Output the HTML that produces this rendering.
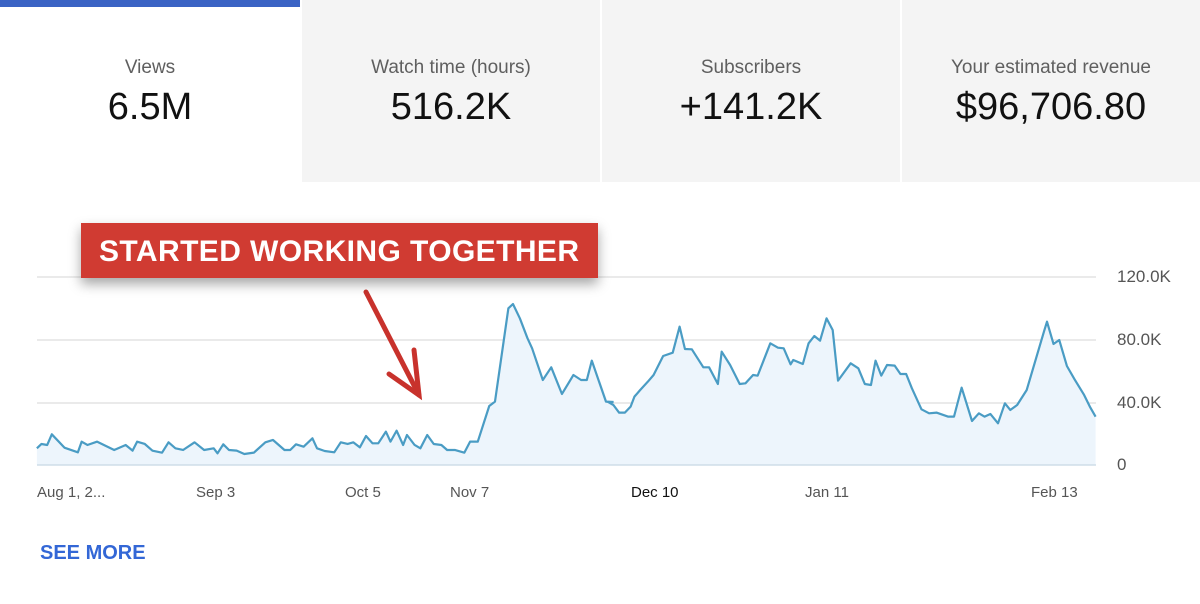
<!DOCTYPE html>
<html><head><style>
body{margin:0;width:1200px;height:604px;background:#fff;font-family:"Liberation Sans",sans-serif;position:relative;overflow:hidden}
.card{position:absolute;top:0;height:182px;width:298px;background:#f4f4f4;text-align:center}
.lab{position:absolute;top:57px;width:100%;font-size:19px;color:#5f5f5f}
.val{position:absolute;top:86px;width:100%;font-size:38px;color:#111}
.yl{position:absolute;left:1117px;font-size:17px;color:#555}
.xl{position:absolute;top:484px;font-size:15px;color:#555}
</style></head><body>
<div class="card" style="left:0;width:300px;background:#fff"><div style="position:absolute;left:0;top:0;width:300px;height:7px;background:#3a63c4"></div><div class="lab">Views</div><div class="val">6.5M</div></div>
<div class="card" style="left:302px"><div class="lab">Watch time (hours)</div><div class="val">516.2K</div></div>
<div class="card" style="left:602px"><div class="lab">Subscribers</div><div class="val">+141.2K</div></div>
<div class="card" style="left:902px"><div class="lab">Your estimated revenue</div><div class="val">$96,706.80</div></div>

<svg width="1200" height="604" style="position:absolute;left:0;top:0">
<g stroke="#e4e4e4" stroke-width="1.5"><line x1="37" y1="277" x2="1096" y2="277"/><line x1="37" y1="340" x2="1096" y2="340"/><line x1="37" y1="403" x2="1096" y2="403"/></g>
<g>
<polygon fill="#edf5fc" transform="translate(30,280) scale(0.3827,0.3333)" points="18,555 18,505 30,492 45,495 57,463 90,503 125,517 135,485 150,495 175,485 220,510 250,495 268,512 280,485 300,492 320,512 345,518 362,487 380,505 400,510 430,487 455,510 480,505 490,520 505,493 520,510 540,512 560,522 585,518 615,487 635,480 665,510 680,510 695,493 715,500 738,475 750,505 770,513 795,517 812,487 830,492 845,487 862,502 878,468 895,490 910,490 930,455 942,485 958,452 975,495 985,465 1005,495 1020,505 1038,465 1055,492 1075,495 1090,510 1110,510 1135,518 1150,485 1170,485 1200,378 1215,365 1250,85 1262,72 1280,115 1300,175 1312,205 1340,300 1362,262 1390,342 1420,285 1440,300 1455,300 1468,242 1505,365 1530,380 1530,555"/>
<polygon fill="#edf5fc" transform="translate(600,280) scale(0.3827,0.3333)" points="0,555 0,300 20,365 35,375 50,398 65,398 80,380 90,350 105,330 125,305 140,285 165,228 190,218 208,140 222,207 240,208 270,262 285,262 308,312 318,215 340,255 365,312 380,310 400,285 412,287 445,190 465,203 480,205 498,253 505,240 530,252 545,190 560,168 575,182 592,115 608,150 622,302 655,250 675,265 692,312 708,315 720,242 735,287 750,255 770,257 785,282 800,282 815,325 840,388 860,400 880,398 910,410 925,410 945,323 972,423 990,400 1005,410 1020,402 1040,430 1058,370 1072,390 1090,375 1115,330 1160,155 1168,125 1185,192 1200,180 1220,258 1240,298 1265,345 1280,380 1295,410 1295,555"/>
<line x1="37" y1="465" x2="1096" y2="465" stroke="#cfdde8" stroke-width="1.5"/>
<polyline fill="none" stroke="#4a9cc4" stroke-width="2.2" vector-effect="non-scaling-stroke" stroke-linejoin="round" transform="translate(30,280) scale(0.3827,0.3333)" points="18,505 30,492 45,495 57,463 90,503 125,517 135,485 150,495 175,485 220,510 250,495 268,512 280,485 300,492 320,512 345,518 362,487 380,505 400,510 430,487 455,510 480,505 490,520 505,493 520,510 540,512 560,522 585,518 615,487 635,480 665,510 680,510 695,493 715,500 738,475 750,505 770,513 795,517 812,487 830,492 845,487 862,502 878,468 895,490 910,490 930,455 942,485 958,452 975,495 985,465 1005,495 1020,505 1038,465 1055,492 1075,495 1090,510 1110,510 1135,518 1150,485 1170,485 1200,378 1215,365 1250,85 1262,72 1280,115 1300,175 1312,205 1340,300 1362,262 1390,342 1420,285 1440,300 1455,300 1468,242 1505,365 1525,366"/>
<polyline fill="none" stroke="#4a9cc4" stroke-width="2.2" vector-effect="non-scaling-stroke" stroke-linejoin="round" transform="translate(600,280) scale(0.3827,0.3333)" points="20,365 35,375 50,398 65,398 80,380 90,350 105,330 125,305 140,285 165,228 190,218 208,140 222,207 240,208 270,262 285,262 308,312 318,215 340,255 365,312 380,310 400,285 412,287 445,190 465,203 480,205 498,253 505,240 530,252 545,190 560,168 575,182 592,115 608,150 622,302 655,250 675,265 692,312 708,315 720,242 735,287 750,255 770,257 785,282 800,282 815,325 840,388 860,400 880,398 910,410 925,410 945,323 972,423 990,400 1005,410 1020,402 1040,430 1058,370 1072,390 1090,375 1115,330 1160,155 1168,125 1185,192 1200,180 1220,258 1240,298 1265,345 1280,380 1295,410"/>
</g>
<g stroke="#c8322c" stroke-width="5" stroke-linecap="round" fill="none">
<path d="M366,292 L419,395"/><path d="M389,374 L419,395 L414,350"/>
</g>
<defs><filter id="sh" x="-10%" y="-30%" width="120%" height="180%"><feDropShadow dx="0" dy="6" stdDeviation="6" flood-opacity="0.35"/></filter></defs>
<rect x="81" y="223" width="517" height="55" fill="#d03b33" filter="url(#sh)"/>
<text x="339" y="261" text-anchor="middle" font-family="Liberation Sans" font-weight="bold" font-size="30" fill="#fff" textLength="480">STARTED WORKING TOGETHER</text>
</svg>
<div class="yl" style="top:267px">120.0K</div>
<div class="yl" style="top:330px">80.0K</div>
<div class="yl" style="top:393px">40.0K</div>
<div class="yl" style="top:455px">0</div>
<div class="xl" style="left:37px">Aug 1, 2...</div>
<div class="xl" style="left:196px">Sep 3</div>
<div class="xl" style="left:345px">Oct 5</div>
<div class="xl" style="left:450px">Nov 7</div>
<div class="xl" style="left:631px;color:#111">Dec 10</div>
<div class="xl" style="left:805px">Jan 11</div>
<div class="xl" style="left:1031px">Feb 13</div>
<div style="position:absolute;left:40px;top:542px;font-size:20px;font-weight:bold;color:#3367d6">SEE MORE</div>
</body></html>
